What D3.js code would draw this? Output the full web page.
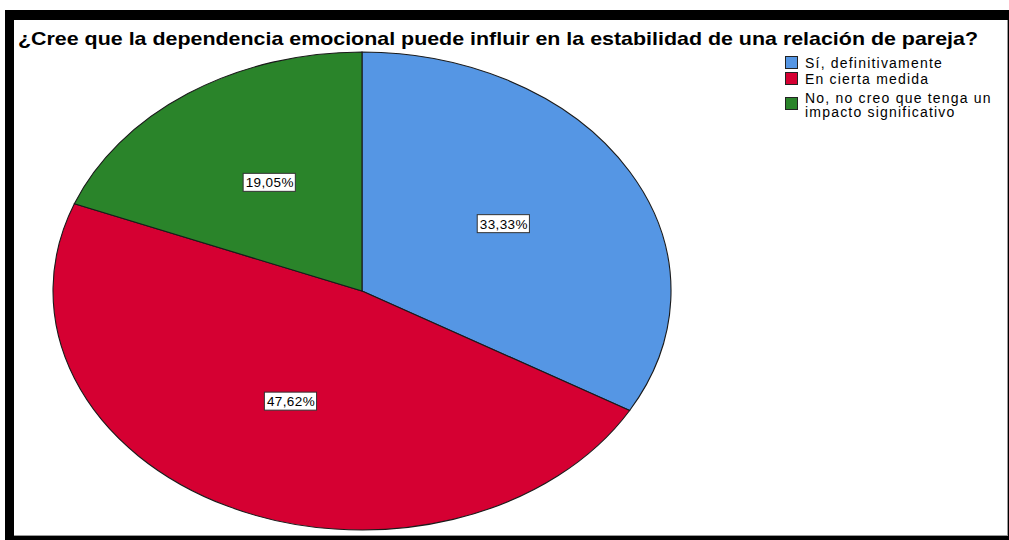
<!DOCTYPE html>
<html><head><meta charset="utf-8">
<script src="https://cdn.jsdelivr.net/npm/d3@7"></script>
<style>body{margin:0;background:#fff;}svg{display:block;}</style>
</head><body>
<svg id="c" width="1009" height="540"></svg>
<script>
const title = "¿Cree que la dependencia emocional puede influir en la estabilidad de una relación de pareja?";
const categories = ["Sí, definitivamente", "En cierta medida", "No, no creo que tenga un impacto significativo"];
const legendLines = [["Sí, definitivamente"], ["En cierta medida"], ["No, no creo que tenga un", "impacto significativo"]];
const values = [33.33, 47.62, 19.05];
const labels = ["33,33%", "47,62%", "19,05%"];
const colors = ["#5596e4", "#d50032", "#2a842a"];

const svg = d3.select("#c");
// frame
svg.append("rect").attr("x",0).attr("y",0).attr("width",1009).attr("height",540).attr("fill","#fff");
svg.append("rect").attr("x",5).attr("y",10).attr("width",1004).attr("height",530).attr("fill","#000");
svg.append("rect").attr("x",14).attr("y",20).attr("width",994).attr("height",516).attr("fill","#9a9a9a");
svg.append("rect").attr("x",14).attr("y",20).attr("width",993).attr("height",515).attr("fill","#fff");

svg.append("text").attr("x",18).attr("y",45)
  .attr("font-family","Liberation Sans, Arial, sans-serif").attr("font-weight","bold")
  .attr("font-size",18.5).attr("fill","#000")
  .attr("textLength",960).attr("lengthAdjust","spacingAndGlyphs").text(title);

const cx = 362, cy = 291, rx = 309, ry = 239, R = 100;
const pie = d3.pie().sort(null).value(d => d)(values);
const arc = d3.arc().innerRadius(0).outerRadius(R);
const g = svg.append("g").attr("transform", `translate(${cx},${cy}) scale(${rx/R},${ry/R})`);
g.selectAll("path").data(pie).join("path")
  .attr("d", arc).attr("fill", (d,i) => colors[i])
  .attr("stroke", "#1a1a1a").attr("stroke-width", 1.1)
  .attr("vector-effect", "non-scaling-stroke");

const labelArc = d3.arc().innerRadius(R*0.53).outerRadius(R*0.53);
pie.forEach((d,i) => {
  const c = labelArc.centroid(d);
  const x = cx + c[0]*rx/R, y = cy + c[1]*ry/R - 4;
  const t = svg.append("text").attr("x", x).attr("y", y + 5)
    .attr("text-anchor","middle").attr("font-family","Liberation Sans, Arial, sans-serif")
    .attr("font-size",13.5).attr("letter-spacing",0.4).attr("fill","#000").text(labels[i]);
  const bb = t.node().getBBox();
  svg.insert("rect", () => t.node())
    .attr("x", bb.x - 2.5).attr("y", y - 9).attr("width", bb.width + 4).attr("height", 18)
    .attr("fill","#fff").attr("stroke","#333").attr("stroke-width",1);
});

// legend
const ly = [56, 72, 97];
legendLines.forEach((lines,i) => {
  svg.append("rect").attr("x",785.5).attr("y",ly[i]+0.5).attr("width",12).attr("height",12)
    .attr("fill",colors[i]).attr("stroke","#222").attr("stroke-width",1);
  lines.forEach((ln,j) => {
    svg.append("text").attr("x",805).attr("y", (i===2 ? 103 : ly[i]+12) + j*14)
      .attr("font-family","Liberation Sans, Arial, sans-serif").attr("font-size",14)
      .attr("letter-spacing",1.2).attr("fill","#000").text(ln);
  });
});
</script>
</body></html>
